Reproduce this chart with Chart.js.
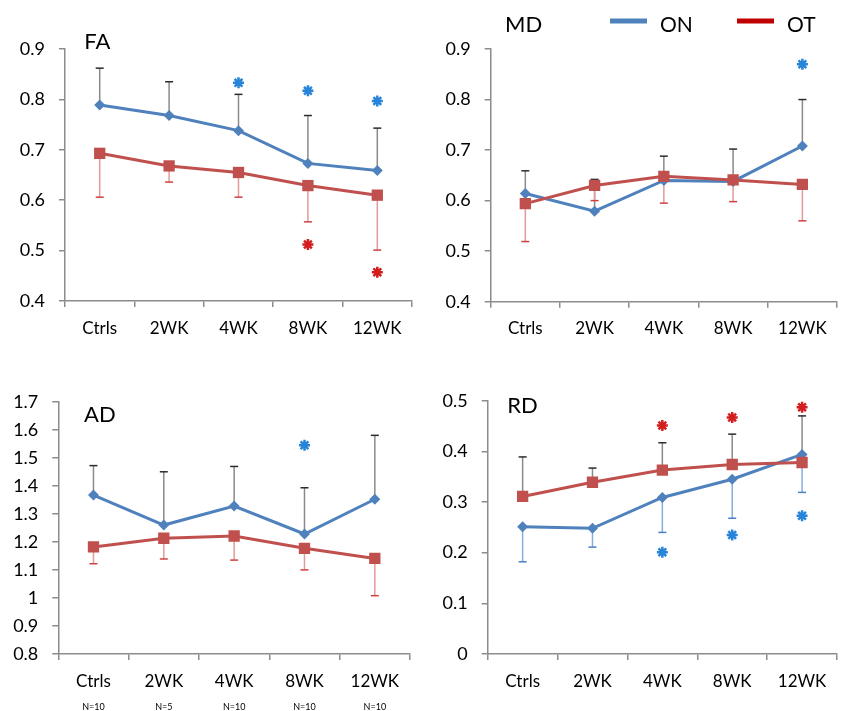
<!DOCTYPE html>
<html>
<head>
<meta charset="utf-8">
<script src="https://cdn.jsdelivr.net/npm/chart.js@4.4.1/dist/chart.umd.min.js"></script>
<style>
  body { margin: 0; background: #fff; }
  .panel { position: absolute; }
</style>
</head>
<body>
<div class="panel" style="left:0px;top:0px"><canvas id="fa" width="420" height="345"></canvas></div>
<div class="panel" style="left:420px;top:0px"><canvas id="md" width="425" height="345"></canvas></div>
<div class="panel" style="left:0px;top:360px"><canvas id="ad" width="420" height="351"></canvas></div>
<div class="panel" style="left:420px;top:360px"><canvas id="rd" width="425" height="351"></canvas></div>
<script>
const categories = ["Ctrls", "2WK", "4WK", "8WK", "12WK"];
const groupSizes = ["N=10", "N=5", "N=10", "N=10", "N=10"];
const seriesNames = ["ON", "OT"];

// FA
const faOn = [0.789, 0.768, 0.738, 0.673, 0.659];
const faOnSd = [0.073, 0.067, 0.072, 0.095, 0.084];
const faOt = [0.693, 0.668, 0.655, 0.629, 0.610];
const faOtSd = [0.087, 0.032, 0.049, 0.072, 0.109];
const faOnStars = [null, null, 0.833, 0.817, 0.797];
const faOtStars = [null, null, null, 0.512, 0.457];

// MD
const mdOn = [0.614, 0.579, 0.640, 0.638, 0.708];
const mdOnSd = [0.045, 0.063, 0.048, 0.064, 0.092];
const mdOt = [0.594, 0.630, 0.648, 0.641, 0.632];
const mdOtSd = [0.075, 0.030, 0.053, 0.043, 0.072];
const mdOnStars = [null, null, null, null, 0.870];
const mdOtStars = [null, null, null, null, null];

// AD
const adOn = [1.367, 1.260, 1.328, 1.228, 1.352];
const adOnSd = [0.105, 0.190, 0.141, 0.165, 0.228];
const adOt = [1.182, 1.213, 1.221, 1.177, 1.141];
const adOtSd = [0.060, 0.074, 0.086, 0.077, 0.133];
const adOnStars = [null, null, null, 1.545, null];
const adOtStars = [null, null, null, null, null];

// RD
const rdOn = [0.251, 0.248, 0.309, 0.345, 0.394];
const rdOnSd = [0.069, 0.037, 0.069, 0.077, 0.075];
const rdOt = [0.311, 0.339, 0.363, 0.374, 0.378];
const rdOtSd = [0.078, 0.028, 0.054, 0.060, 0.092];
const rdOnStars = [null, null, 0.201, 0.235, 0.273];
const rdOtStars = [null, null, 0.451, 0.467, 0.487];

const FONT = "Lato, 'Open Sans', sans-serif";
const axisColor = "#8c8c8c";
const blue = "#4F81BD";
const red = "#C0504D";

Chart.defaults.font.family = FONT;
Chart.defaults.color = "#000";

// error bars, drawn under the lines
const errorBars = {
  id: "errorBars",
  beforeDatasetsDraw(chart) {
    const ctx = chart.ctx;
    const y = chart.scales.y;
    chart.data.datasets.forEach((ds, i) => {
      if (!ds.sd) return;
      const meta = chart.getDatasetMeta(i);
      ctx.save();
      ds.data.forEach((v, j) => {
        const pt = meta.data[j];
        const end = y.getPixelForValue(v + ds.sdDir * ds.sd[j]);
        ctx.lineWidth = 1.5;
        ctx.strokeStyle = ds.sdColor;
        ctx.beginPath();
        ctx.moveTo(pt.x, pt.y);
        ctx.lineTo(pt.x, end);
        ctx.stroke();
        ctx.strokeStyle = ds.sdCap;
        ctx.beginPath();
        ctx.moveTo(pt.x - 4, end);
        ctx.lineTo(pt.x + 4, end);
        ctx.stroke();
      });
      ctx.restore();
    });
  }
};

function makePanel(id, cfg) {
  const upper = { color: "#8a8a8a", cap: "#2b2b2b" };
  const lowerOn = { color: "#86AEDD", cap: "#4A7FC0" };
  const lowerOt = { color: "#E39A99", cap: "#D04040" };
  const onBar = cfg.onDir > 0 ? upper : lowerOn;
  const otBar = cfg.otDir > 0 ? upper : lowerOt;

  const scales = {
    x: {
      type: "category",
      offset: true,
      weight: 0,
      grid: { offset: true, drawOnChartArea: false, tickLength: 6, color: axisColor, lineWidth: 1.5 },
      border: { color: axisColor, width: 1.5 },
      ticks: { font: { size: 17 }, padding: cfg.xPad, maxRotation: 0, autoSkip: false },
      afterFit: s => { s.height = cfg.xHeight; }
    },
    y: {
      min: cfg.yMin,
      max: cfg.yMax,
      grid: { drawOnChartArea: false, tickLength: 6, color: axisColor, lineWidth: 1.5 },
      border: { color: axisColor, width: 1.5 },
      ticks: {
        stepSize: 0.1,
        font: { size: 18 },
        padding: 14,
        callback: v => String(+v.toFixed(1))
      },
      afterFit: s => { s.width = cfg.yWidth; }
    }
  };
  if (cfg.nAxis) {
    scales.n = {
      type: "category",
      position: "bottom",
      labels: groupSizes,
      offset: true,
      weight: 1,
      grid: { display: false, drawTicks: false },
      border: { display: false },
      ticks: { font: { size: 9 }, padding: 8, maxRotation: 0, autoSkip: false },
      afterFit: s => { s.height = 17; }
    };
  }

  const panelLabel = {
    id: "panelLabel",
    afterDraw(chart) {
      const { ctx, chartArea } = chart;
      ctx.save();
      ctx.font = "22px " + FONT;
      ctx.fillStyle = "#000";
      ctx.textBaseline = "alphabetic";
      ctx.fillText(cfg.label, chartArea.left + cfg.labelDx, chartArea.top + cfg.labelDy);
      ctx.restore();
    }
  };

  // series key (only shown on the MD panel)
  const seriesKey = {
    id: "seriesKey",
    afterDraw(chart) {
      if (!cfg.key) return;
      const ctx = chart.ctx;
      const colors = [blue, "#C00000"];
      ctx.save();
      ctx.font = "21px " + FONT;
      ctx.textBaseline = "alphabetic";
      seriesNames.forEach((name, i) => {
        const x = 190 + i * 127;
        ctx.fillStyle = colors[i];
        ctx.fillRect(x, 18.5, 37, 5);
        ctx.fillStyle = "#000";
        ctx.fillText(name, x + 50, 31.5);
      });
      ctx.restore();
    }
  };

  return new Chart(id, {
    type: "line",
    data: {
      labels: categories,
      datasets: [
        {
          label: seriesNames[0],
          data: cfg.on,
          sd: cfg.onSd, sdDir: cfg.onDir, sdColor: onBar.color, sdCap: onBar.cap,
          borderColor: blue, backgroundColor: blue, borderWidth: 3,
          pointStyle: "rectRot", pointRadius: 5.5, pointBorderWidth: 0,
          tension: 0, order: 1
        },
        {
          label: seriesNames[1],
          data: cfg.ot,
          sd: cfg.otSd, sdDir: cfg.otDir, sdColor: otBar.color, sdCap: otBar.cap,
          borderColor: red, backgroundColor: red, borderWidth: 3,
          pointStyle: "rect", pointRadius: 8, pointBorderWidth: 0,
          tension: 0, order: 0
        },
        {
          label: "ON *",
          data: cfg.onStars,
          showLine: false,
          borderColor: "#2784D8", pointStyle: "star", pointRadius: 5.5, pointBorderWidth: 2.5,
          order: -1
        },
        {
          label: "OT *",
          data: cfg.otStars,
          showLine: false,
          borderColor: "#D21E1E", pointStyle: "star", pointRadius: 5.5, pointBorderWidth: 2.5,
          order: -1
        }
      ]
    },
    options: {
      responsive: false,
      animation: false,
      events: [],
      layout: { padding: { top: cfg.top, right: cfg.right, left: 0, bottom: 0 } },
      plugins: { legend: { display: false }, tooltip: { enabled: false } },
      scales: scales
    },
    plugins: [errorBars, panelLabel, seriesKey]
  });
}

makePanel("fa", {
  on: faOn, onSd: faOnSd, onDir: 1, ot: faOt, otSd: faOtSd, otDir: -1,
  onStars: faOnStars, otStars: faOtStars, yMin: 0.4, yMax: 0.9,
  label: "FA", labelDx: 19.3, labelDy: 0.3,
  yWidth: 65, xHeight: 44, xPad: 11, top: 49, right: 2
});
makePanel("md", {
  on: mdOn, onSd: mdOnSd, onDir: 1, ot: mdOt, otSd: mdOtSd, otDir: -1,
  onStars: mdOnStars, otStars: mdOtStars, yMin: 0.4, yMax: 0.9,
  label: "MD", labelDx: 14.3, labelDy: -17.3, key: true,
  yWidth: 70.7, xHeight: 43.3, xPad: 11, top: 49, right: 2
});
makePanel("ad", {
  on: adOn, onSd: adOnSd, onDir: 1, ot: adOt, otSd: adOtSd, otDir: -1,
  onStars: adOnStars, otStars: adOtStars, yMin: 0.8, yMax: 1.7,
  label: "AD", labelDx: 25.7, labelDy: 20, nAxis: true,
  yWidth: 58.3, xHeight: 40, xPad: 11.5, top: 41.7, right: 10
});
makePanel("rd", {
  on: rdOn, onSd: rdOnSd, onDir: -1, ot: rdOt, otSd: rdOtSd, otDir: 1,
  onStars: rdOnStars, otStars: rdOtStars, yMin: 0, yMax: 0.5,
  label: "RD", labelDx: 19.6, labelDy: 12.6,
  yWidth: 67.7, xHeight: 57, xPad: 11.5, top: 40.7, right: 5.7
});
</script>
</body>
</html>
